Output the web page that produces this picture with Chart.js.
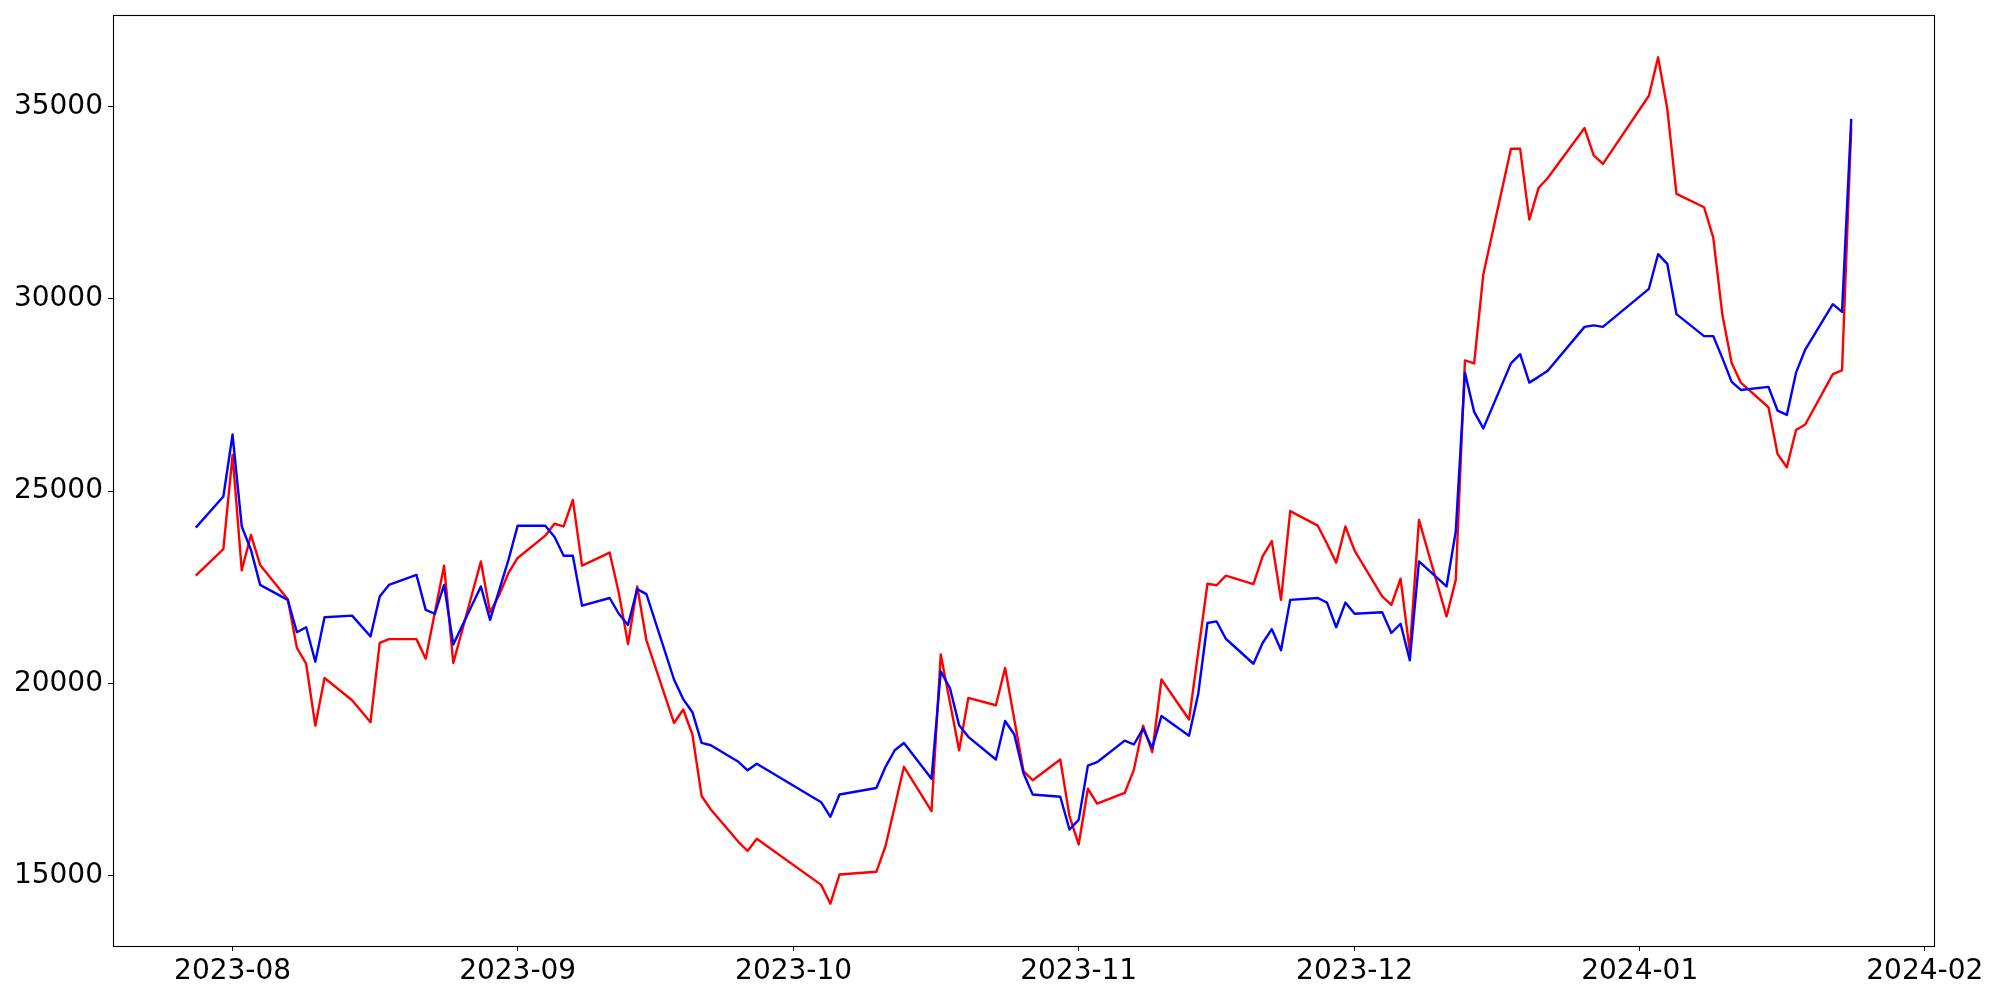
<!DOCTYPE html>
<html>
<head>
<meta charset="utf-8">
<script src="https://cdn.jsdelivr.net/npm/chart.js@4.4.1/dist/chart.umd.min.js"></script>
<style>
  html, body { margin: 0; padding: 0; background: #ffffff; }
  #wrap { width: 2000px; height: 1000px; }
</style>
</head>
<body>
<div id="wrap"><canvas id="c" width="2000" height="1000"></canvas></div>
<script>
// ---- Data ----
const dates = [
  '2023-07-28','2023-07-31','2023-08-01','2023-08-02','2023-08-03','2023-08-04',
  '2023-08-07','2023-08-08','2023-08-09','2023-08-10','2023-08-11',
  '2023-08-14','2023-08-16','2023-08-17','2023-08-18',
  '2023-08-21','2023-08-22','2023-08-23','2023-08-24','2023-08-25',
  '2023-08-28','2023-08-29','2023-08-30','2023-08-31','2023-09-01',
  '2023-09-04','2023-09-05','2023-09-06','2023-09-07','2023-09-08',
  '2023-09-11','2023-09-12','2023-09-13','2023-09-14','2023-09-15',
  '2023-09-18','2023-09-19','2023-09-20','2023-09-21','2023-09-22',
  '2023-09-25','2023-09-26','2023-09-27',
  '2023-10-04','2023-10-05','2023-10-06',
  '2023-10-10','2023-10-11','2023-10-12','2023-10-13',
  '2023-10-16','2023-10-17','2023-10-18','2023-10-19','2023-10-20',
  '2023-10-23','2023-10-24','2023-10-25','2023-10-26','2023-10-27',
  '2023-10-30','2023-10-31','2023-11-01','2023-11-02','2023-11-03',
  '2023-11-06','2023-11-07','2023-11-08','2023-11-09','2023-11-10',
  '2023-11-13','2023-11-14','2023-11-15','2023-11-16','2023-11-17',
  '2023-11-20','2023-11-21','2023-11-22','2023-11-23','2023-11-24',
  '2023-11-27','2023-11-28','2023-11-29','2023-11-30','2023-12-01',
  '2023-12-04','2023-12-05','2023-12-06','2023-12-07','2023-12-08',
  '2023-12-11','2023-12-12','2023-12-13','2023-12-14','2023-12-15',
  '2023-12-18','2023-12-19','2023-12-20','2023-12-21','2023-12-22',
  '2023-12-26','2023-12-27','2023-12-28',
  '2024-01-02','2024-01-03','2024-01-04','2024-01-05',
  '2024-01-08','2024-01-09','2024-01-10','2024-01-11','2024-01-12',
  '2024-01-15','2024-01-16','2024-01-17','2024-01-18','2024-01-19',
  '2024-01-22','2024-01-23','2024-01-24'
];

const blueValues = [
  24050,24860,26470,24080,23470,22560,
  22170,21330,21460,20560,21720,
  21760,21220,22260,22560,
  22820,21910,21810,22560,21010,
  22520,21650,22430,23210,24100,
  24100,23810,23320,23320,22020,
  22220,21810,21520,22450,22320,
  20100,19590,19250,18450,18390,
  17960,17740,17910,
  16910,16530,17110,
  17280,17830,18260,18450,
  17520,20310,19880,18910,18610,
  18020,19020,18670,17660,17110,
  17050,16200,16450,17860,17950,
  18510,18410,18820,18320,19150,
  18640,19730,21570,21610,21160,
  20510,21050,21410,20860,22170,
  22220,22100,21460,22100,21810,
  21850,21310,21550,20600,23170,
  22520,23950,28080,27060,26630,
  28320,28560,27820,27970,28130,
  29270,29310,29270,
  30260,31160,30910,29600,
  29030,29030,28450,27840,27630,
  27710,27090,26980,28080,28680,
  29860,29660,34680
];

const redValues = [
  22800,23490,25940,22940,23860,23080,
  22190,20920,20510,18900,20140,
  19560,18990,21050,21150,
  21150,20640,21850,23060,20530,
  23170,21850,22300,22870,23260,
  23840,24150,24080,24770,23060,
  23400,22350,21020,22520,21120,
  18970,19320,18670,17070,16720,
  15880,15640,15960,
  14760,14270,15030,
  15100,15770,16800,17830,
  16680,20750,19510,18260,19620,
  19430,20400,19060,17720,17480,
  18020,16550,15810,17260,16870,
  17150,17750,18900,18210,20100,
  19060,20820,22590,22550,22800,
  22580,23300,23700,22170,24480,
  24100,23630,23140,24080,23450,
  22260,22040,22720,20830,24250,
  21740,22690,28400,28320,30640,
  33900,33900,32060,32880,33140,
  34440,33730,33510,
  35280,36280,34940,32730,
  32380,31590,29570,28330,27820,
  27180,25960,25620,26590,26730,
  28040,28140,34460
];

const monthTicks = ['2023-08','2023-09','2023-10','2023-11','2023-12','2024-01','2024-02'];
const yTicks = [15000, 20000, 25000, 30000, 35000];

// ---- Helpers ----
function dayNum(s) {
  const p = s.split('-').map(Number);
  return Date.UTC(p[0], p[1] - 1, p[2] || 1) / 86400000;
}
const xs = dates.map(dayNum);
const bluePts = xs.map((x, i) => ({ x: x, y: blueValues[i] }));
const redPts = xs.map((x, i) => ({ x: x, y: redValues[i] }));
const monthDay = monthTicks.map(m => dayNum(m + '-01'));

const FONT = { family: "'DejaVu Sans', sans-serif", size: 28 };

const framePlugin = {
  id: 'frame',
  afterDraw(chart) {
    const a = chart.chartArea;
    const ctx = chart.ctx;
    ctx.save();
    ctx.strokeStyle = '#000000';
    ctx.lineWidth = 1.1;
    ctx.strokeRect(Math.round(a.left) + 0.5, Math.round(a.top) + 0.5,
                   Math.round(a.right - a.left), Math.round(a.bottom - a.top));
    ctx.restore();
  }
};

new Chart(document.getElementById('c'), {
  type: 'line',
  data: {
    datasets: [
      { data: bluePts, borderColor: '#0000ff', borderWidth: 2.4, pointRadius: 0,
        tension: 0, fill: false, borderJoinStyle: 'round', order: 0 },
      { data: redPts, borderColor: '#ff0000', borderWidth: 2.4, pointRadius: 0,
        tension: 0, fill: false, borderJoinStyle: 'round', order: 1 }
    ]
  },
  options: {
    responsive: false,
    devicePixelRatio: 1,
    animation: false,
    events: [],
    layout: { padding: { top: 15, right: 66, left: 0, bottom: 0 } },
    plugins: { legend: { display: false }, tooltip: { enabled: false }, title: { display: false } },
    scales: {
      x: {
        type: 'linear',
        min: dayNum('2023-07-19'),
        max: dayNum('2024-02-02'),
        afterBuildTicks(scale) { scale.ticks = monthDay.map(v => ({ value: v })); },
        afterFit(scale) { scale.height = 54; scale.paddingLeft = 0; scale.paddingRight = 0; },
        border: { display: false },
        grid: { display: true, drawOnChartArea: false, drawTicks: true, tickLength: 5,
                color: '#000000', lineWidth: 1 },
        ticks: {
          autoSkip: false, maxRotation: 0, minRotation: 0, padding: 4,
          color: '#000000', font: FONT,
          callback(v) { const i = monthDay.indexOf(v); return i >= 0 ? monthTicks[i] : ''; }
        }
      },
      y: {
        type: 'linear',
        min: 13170,
        max: 37380,
        afterBuildTicks(scale) { scale.ticks = yTicks.map(v => ({ value: v })); },
        afterFit(scale) { scale.width = 113; scale.paddingTop = 0; scale.paddingBottom = 0; },
        border: { display: false },
        grid: { display: true, drawOnChartArea: false, drawTicks: true, tickLength: 5,
                color: '#000000', lineWidth: 1 },
        ticks: {
          autoSkip: false, padding: 5, color: '#000000', font: FONT,
          callback(v) { return String(v); }
        }
      }
    }
  },
  plugins: [framePlugin]
});
</script>
</body>
</html>
